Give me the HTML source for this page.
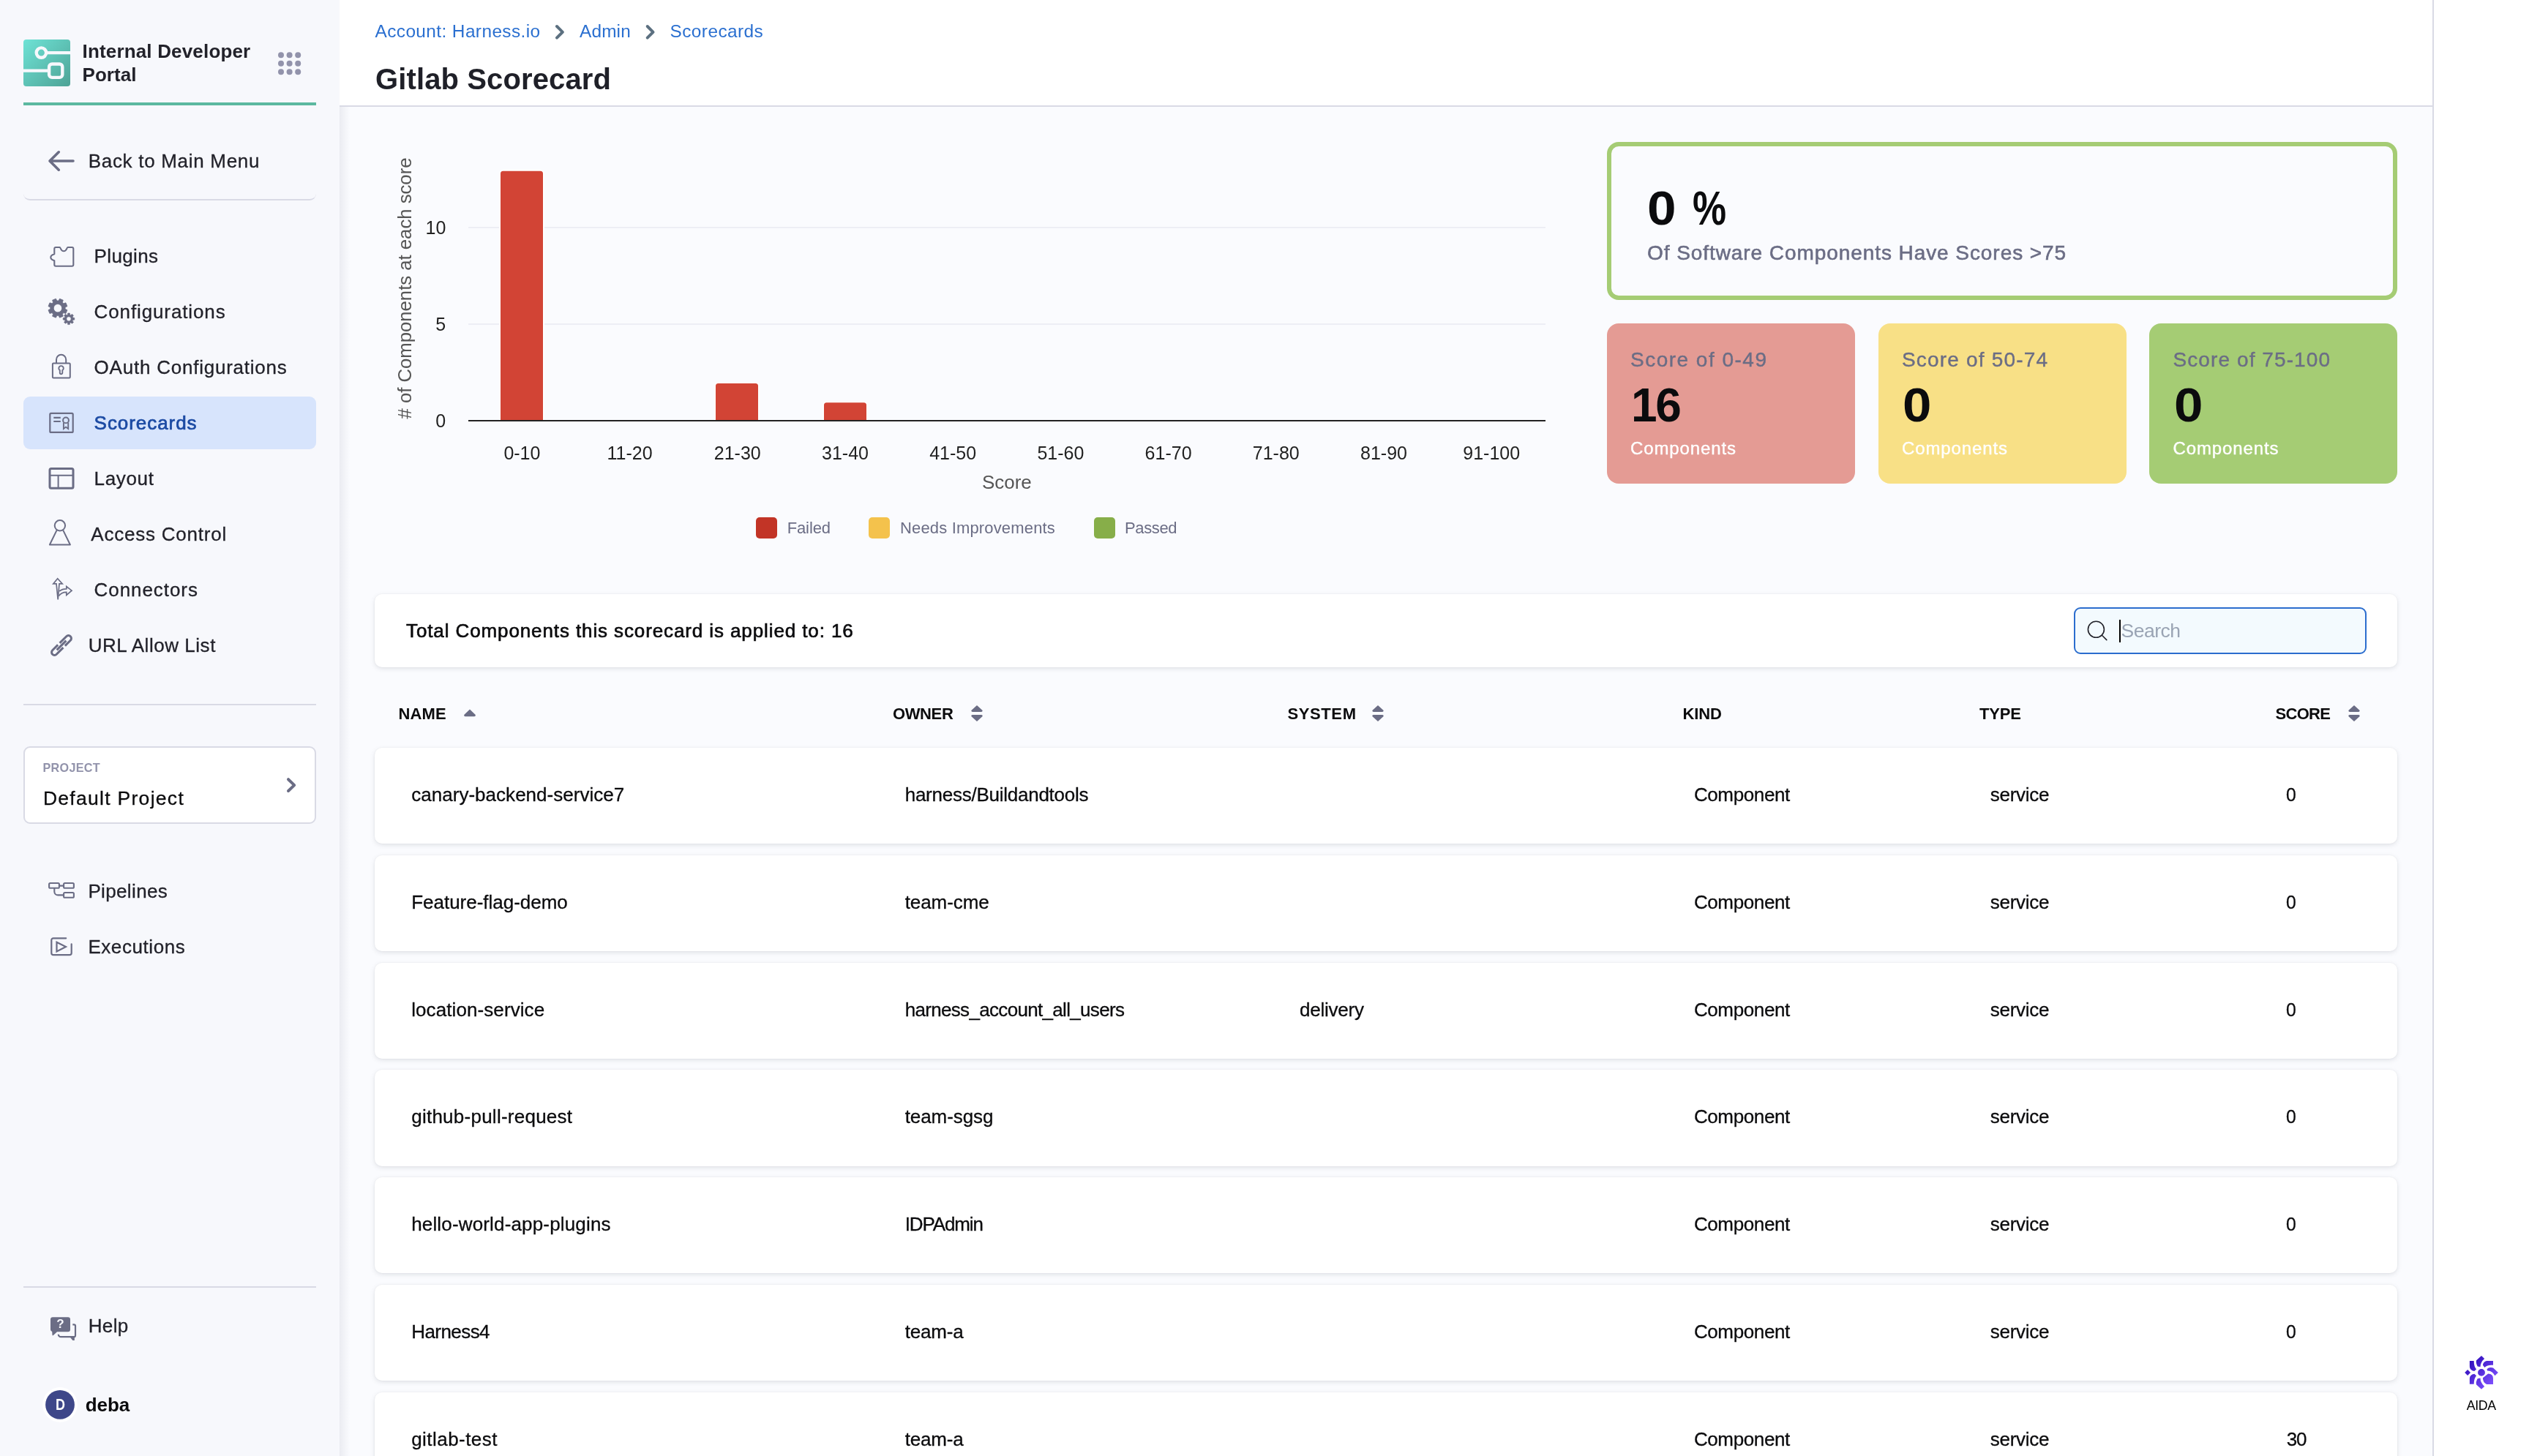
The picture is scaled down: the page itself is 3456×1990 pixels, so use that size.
<!DOCTYPE html>
<html>
<head>
<meta charset="utf-8">
<title>Gitlab Scorecard</title>
<style>
*{box-sizing:border-box;margin:0;padding:0}
html,body{width:3456px;height:1990px;overflow:hidden;background:#fafbfe}
body{font-family:"Liberation Sans",sans-serif;color:#0b0b0d;position:relative}
.abs{position:absolute}
.t{position:absolute;white-space:nowrap;line-height:1}
#side{position:absolute;left:0;top:0;width:464px;height:1990px;background:#f7f8fc}
#sideshadow{position:absolute;left:464px;top:0;width:14px;height:1990px;background:linear-gradient(90deg,rgba(110,112,140,.11),rgba(110,112,140,0))}
#greenbar{position:absolute;left:32px;top:140px;width:400px;height:4px;background:#5cb8a0}
.hr{position:absolute;left:32px;width:400px;height:2px;background:#d9dae5}
#sel{position:absolute;left:32px;top:542px;width:400px;height:72px;border-radius:9px;background:#d7e4fc}
#head{position:absolute;left:464px;top:0;width:2860px;height:146px;background:#fff;border-bottom:2px solid #d9dae5}
#rightpanel{position:absolute;left:3324px;top:0;width:132px;height:1990px;background:#fff;border-left:2px solid #d9dae5}
.card{position:absolute;background:#fff;border-radius:10px;box-shadow:0 2px 6px rgba(96,97,112,.16),0 0 3px rgba(40,41,61,.06)}
.score{position:absolute;top:442px;width:339px;height:219px;border-radius:16px}
.lgsq{position:absolute;top:707px;width:29px;height:29px;border-radius:5px}
#L{position:absolute;left:0;top:0;width:3456px;height:1990px;will-change:transform}
</style>
</head>
<body>
<div id="side"></div>
<div id="sideshadow"></div>
<div id="head"></div>
<div id="rightpanel"></div>
<div id="greenbar"></div>
<div id="sel"></div>
<div class="abs" style="left:32px;top:180px;width:400px;height:94px;border-bottom:2px solid #d9dae5;border-radius:9px"></div>
<div class="hr" style="top:962px"></div>
<div class="hr" style="top:1758px"></div>
<div class="abs" style="left:32px;top:1020px;width:400px;height:105.5px;border:2px solid #d9dae5;border-radius:9px;background:#fff"></div>
<div id="L">
<div class="abs" style="left:2196px;top:194px;width:1080px;height:216px;border:6px solid #a5cc74;border-radius:16px"></div>
<div class="score" style="left:2196px;background:#e49b94"></div>
<div class="score" style="left:2567px;background:#f8e086"></div>
<div class="score" style="left:2937.3px;background:#a5cc74"></div>
<div class="card" style="left:512px;top:812px;width:2764px;height:100px"></div>
<div class="abs" style="left:2834px;top:830px;width:400px;height:64px;border:2px solid #2b6dce;border-radius:9px;background:#f3fafe"></div>
<div class="abs" style="left:2896px;top:847px;width:2px;height:31px;background:#000"></div>
<div class="card" style="left:512px;top:1022.0px;width:2764px;height:131.25px"></div>
<div class="card" style="left:512px;top:1168.75px;width:2764px;height:131.25px"></div>
<div class="card" style="left:512px;top:1315.5px;width:2764px;height:131.25px"></div>
<div class="card" style="left:512px;top:1462.25px;width:2764px;height:131.25px"></div>
<div class="card" style="left:512px;top:1609.0px;width:2764px;height:131.25px"></div>
<div class="card" style="left:512px;top:1755.75px;width:2764px;height:131.25px"></div>
<div class="card" style="left:512px;top:1902.5px;width:2764px;height:131.25px"></div>
<div class="lgsq" style="left:1033px;background:#c23426"></div>
<div class="lgsq" style="left:1187px;background:#f4c24c"></div>
<div class="lgsq" style="left:1494.5px;background:#87ae49"></div>
<svg class="abs" style="left:464px;top:0" width="2992" height="1990" viewBox="464 0 2992 1990">
<path d="M761 36L768.8 43.8L761 51.6" stroke="#5c7080" stroke-width="4" fill="none" stroke-linecap="round" stroke-linejoin="round"/>
<path d="M884.7 36L892.5 43.8L884.7 51.6" stroke="#5c7080" stroke-width="4" fill="none" stroke-linecap="round" stroke-linejoin="round"/>
<path d="M640 311H2112M640 443H2112" stroke="#edeef5" stroke-width="2"/>
<path d="M683 575V237.2a4.5 4.5 0 0 1 4.5-4.5H738.5a4.5 4.5 0 0 1 4.5 4.5V575Z" fill="#d24435" stroke="#fff" stroke-width="2"/>
<path d="M977 575V527.5a4.5 4.5 0 0 1 4.5-4.5H1032.5a4.5 4.5 0 0 1 4.5 4.5V575Z" fill="#d24435" stroke="#fff" stroke-width="2"/>
<path d="M1125 575V553.7a4.5 4.5 0 0 1 4.5-4.5H1180.5a4.5 4.5 0 0 1 4.5 4.5V575Z" fill="#d24435" stroke="#fff" stroke-width="2"/>
<path d="M640 575H2112" stroke="#222" stroke-width="2"/>
<path d="M642 969.6 L649.8 977 Q650.2 979.2 648.2 979.2 H635.8 Q633.8 979.2 634.2 977 Z" fill="#6b6d85"/><path d="M1335 964 L1342.7 971.1 Q1342.9 972.9 1341.2 972.9 H1328.8 Q1327.1 972.9 1327.3 971.1 Z M1335 986 L1342.7 978.9 Q1342.9 977.1 1341.2 977.1 H1328.8 Q1327.1 977.1 1327.3 978.9 Z" fill="#6b6d85"/><path d="M1883 964 L1890.7 971.1 Q1890.9 972.9 1889.2 972.9 H1876.8 Q1875.1 972.9 1875.3 971.1 Z M1883 986 L1890.7 978.9 Q1890.9 977.1 1889.2 977.1 H1876.8 Q1875.1 977.1 1875.3 978.9 Z" fill="#6b6d85"/><path d="M3217 964 L3224.7 971.1 Q3224.9 972.9 3223.2 972.9 H3210.8 Q3209.1 972.9 3209.3 971.1 Z M3217 986 L3224.7 978.9 Q3224.9 977.1 3223.2 977.1 H3210.8 Q3209.1 977.1 3209.3 978.9 Z" fill="#6b6d85"/>
<circle cx="2864.4" cy="860.3" r="11" fill="none" stroke="#22222a" stroke-width="1.6"/><path d="M2872.4 868.3L2878.8 874.6" stroke="#22222a" stroke-width="1.6" stroke-linecap="round"/>
<defs><linearGradient id="ag" gradientUnits="userSpaceOnUse" x1="-18" y1="-18" x2="18" y2="18"><stop offset="0.1" stop-color="#3512c0"/><stop offset="0.9" stop-color="#7a4dfa"/></linearGradient></defs>
<g transform="translate(3391 1875.9)" fill="url(#ag)"><rect x="-23" y="-23" width="46" height="46" fill="none"/>
<circle r="4.9"/>
<path d="M0,-22.8 L4.1,-19 Q-1.5,-14 -1.5,-7.7 L-5.3,-8.4 Q-8,-13 -6.9,-16.6 Z"/>
<path d="M-16.1,-15.9 L-10.3,-15.9 Q-10.3,-8 -6.9,-4.3 L-9.75,-1.85 Q-16.1,-3 -16.1,-8.4 Z"/>
<path d="M16,-15.9 L7.1,-15.9 Q2.5,-15 1.9,-10.1 L4.3,-7 Q9,-11 16,-10.1 Z"/>
<path d="M22.9,0 L16,-6.3 Q11,-8 7.4,-4.6 L8.4,-2.2 Q14,-3 18.4,4.3 Z"/>
<path d="M16,16 L16,8.1 Q16,2 9.1,1.6 Q5,5 1.9,7.4 Q2,14 7.1,16 Z"/>
<path d="M0,22.8 L4.1,19 Q-1.5,14 -1.5,7.7 L-5.3,8.4 Q-8,13 -6.9,16.6 Z"/>
<path d="M-16.1,15.9 L-10.3,15.9 Q-10.3,8 -6.9,4.3 L-9.75,1.85 Q-16.1,3 -16.1,8.4 Z"/>
<path d="M-22.8,0 L-18.9,-4 L-14.9,0 L-18.9,4 Z"/></g>
</svg>
<div class="t" style="left:512.5px;top:31.0px;font-size:24.4px;color:#2a6fd0;letter-spacing:0.41px;">Account: Harness.io</div>
<div class="t" style="left:792.1px;top:31.0px;font-size:24.4px;color:#2a6fd0;letter-spacing:0.12px;">Admin</div>
<div class="t" style="left:915.5px;top:31.0px;font-size:24.4px;color:#2a6fd0;letter-spacing:0.44px;">Scorecards</div>
<div class="t" style="left:513.0px;top:87.8px;font-size:40px;color:#1f2028;font-weight:bold;letter-spacing:0.12px;">Gitlab Scorecard</div>
<div class="t" style="left:3370.8px;top:1912.8px;font-size:17.8px;color:#000;letter-spacing:-0.43px;">AIDA</div>
<div class="t" style="left:688.4px;top:607.1px;font-size:25px;color:#222;">0-10</div>
<div class="t" style="left:829.5px;top:607.1px;font-size:25px;color:#222;">11-20</div>
<div class="t" style="left:975.8px;top:607.1px;font-size:25px;color:#222;">21-30</div>
<div class="t" style="left:1123.0px;top:607.1px;font-size:25px;color:#222;">31-40</div>
<div class="t" style="left:1270.2px;top:607.1px;font-size:25px;color:#222;">41-50</div>
<div class="t" style="left:1417.4px;top:607.1px;font-size:25px;color:#222;">51-60</div>
<div class="t" style="left:1564.6px;top:607.1px;font-size:25px;color:#222;">61-70</div>
<div class="t" style="left:1711.8px;top:607.1px;font-size:25px;color:#222;">71-80</div>
<div class="t" style="left:1859.0px;top:607.1px;font-size:25px;color:#222;">81-90</div>
<div class="t" style="left:1999.3px;top:607.1px;font-size:25px;color:#222;">91-100</div>
<div class="t" style="left:581.5px;top:298.9px;font-size:25px;color:#222;">10</div>
<div class="t" style="left:595.3px;top:430.9px;font-size:25px;color:#222;">5</div>
<div class="t" style="left:595.3px;top:563.1px;font-size:25px;color:#222;">0</div>
<div class="t" style="left:1341.9px;top:646.2px;font-size:26px;color:#555;">Score</div>
<div class="t" style="left:553.5px;top:394.2px;font-size:25.7px;color:#555;transform:translate(-50%,-50%) rotate(-90deg);transform-origin:50% 50%">#&nbsp;of Components at each score</div>
<div class="t" style="left:1075.7px;top:711.1px;font-size:22px;color:#6b6d85;letter-spacing:-0.12px;">Failed</div>
<div class="t" style="left:1230.0px;top:711.1px;font-size:22px;color:#6b6d85;letter-spacing:0.16px;">Needs Improvements</div>
<div class="t" style="left:1537.0px;top:711.1px;font-size:22px;color:#6b6d85;letter-spacing:-0.36px;">Passed</div>
<div class="t" style="left:2251.2px;top:251.7px;font-size:65px;color:#0b0b0d;font-weight:bold;transform:scaleX(1.0934);transform-origin:0 50%;">0</div>
<div class="t" style="left:2312.7px;top:251.7px;font-size:65px;color:#0b0b0d;font-weight:bold;transform:scaleX(0.7965);transform-origin:0 50%;">%</div>
<div class="t" style="left:2251.0px;top:331.6px;font-size:28px;color:#6b6d85;letter-spacing:0.93px;-webkit-text-stroke:0.6px #6b6d85;">Of Software Components Have Scores &gt;75</div>
<div class="t" style="left:2228.0px;top:478.1px;font-size:28px;color:#6b6d85;letter-spacing:1.49px;-webkit-text-stroke:0.4px #6b6d85;">Score of 0-49</div>
<div class="t" style="left:2599.0px;top:478.1px;font-size:28px;color:#6b6d85;letter-spacing:1.18px;-webkit-text-stroke:0.4px #6b6d85;">Score of 50-74</div>
<div class="t" style="left:2969.5px;top:478.1px;font-size:28px;color:#6b6d85;letter-spacing:1.09px;-webkit-text-stroke:0.4px #6b6d85;">Score of 75-100</div>
<div class="t" style="left:2229.0px;top:521.7px;font-size:64px;color:#0b0b0d;font-weight:bold;letter-spacing:-2.25px;">16</div>
<div class="t" style="left:2600.0px;top:521.7px;font-size:64px;color:#0b0b0d;font-weight:bold;transform:scaleX(1.1088);transform-origin:0 50%;">0</div>
<div class="t" style="left:2970.5px;top:521.7px;font-size:64px;color:#0b0b0d;font-weight:bold;transform:scaleX(1.1088);transform-origin:0 50%;">0</div>
<div class="t" style="left:2228.0px;top:600.9px;font-size:24px;color:#fff;letter-spacing:0.88px;-webkit-text-stroke:0.4px #fff;">Components</div>
<div class="t" style="left:2599.0px;top:600.9px;font-size:24px;color:#fff;letter-spacing:0.88px;-webkit-text-stroke:0.4px #fff;">Components</div>
<div class="t" style="left:2969.5px;top:600.9px;font-size:24px;color:#fff;letter-spacing:0.88px;-webkit-text-stroke:0.4px #fff;">Components</div>
<div class="t" style="left:555.0px;top:848.7px;font-size:26px;color:#0b0b0d;letter-spacing:0.89px;-webkit-text-stroke:0.65px #0b0b0d;">Total Components this scorecard is applied to: 16</div>
<div class="t" style="left:2898.5px;top:849.4px;font-size:26.5px;color:#9aa4b4;letter-spacing:-0.50px;">Search</div>
<div class="t" style="left:544.5px;top:965.0px;font-size:22px;color:#0b0b0d;font-weight:bold;letter-spacing:0.12px;">NAME</div>
<div class="t" style="left:1220.0px;top:965.0px;font-size:22px;color:#0b0b0d;font-weight:bold;letter-spacing:-0.39px;">OWNER</div>
<div class="t" style="left:1759.5px;top:965.0px;font-size:22px;color:#0b0b0d;font-weight:bold;letter-spacing:0.60px;">SYSTEM</div>
<div class="t" style="left:2299.5px;top:965.0px;font-size:22px;color:#0b0b0d;font-weight:bold;letter-spacing:-0.15px;">KIND</div>
<div class="t" style="left:2705.0px;top:965.0px;font-size:22px;color:#0b0b0d;font-weight:bold;letter-spacing:-0.17px;">TYPE</div>
<div class="t" style="left:3109.5px;top:965.0px;font-size:22px;color:#0b0b0d;font-weight:bold;letter-spacing:-0.69px;">SCORE</div>
<div class="t" style="left:562.2px;top:1073.0px;font-size:26px;color:#0b0b0d;letter-spacing:0.03px;-webkit-text-stroke:0.3px #0b0b0d;">canary-backend-service7</div>
<div class="t" style="left:1236.7px;top:1073.0px;font-size:26px;color:#0b0b0d;letter-spacing:-0.25px;-webkit-text-stroke:0.3px #0b0b0d;">harness/Buildandtools</div>
<div class="t" style="left:2314.9px;top:1073.0px;font-size:26px;color:#0b0b0d;letter-spacing:-0.38px;-webkit-text-stroke:0.3px #0b0b0d;">Component</div>
<div class="t" style="left:2719.8px;top:1073.0px;font-size:26px;color:#0b0b0d;letter-spacing:-0.28px;-webkit-text-stroke:0.3px #0b0b0d;">service</div>
<div class="t" style="left:3123.6px;top:1073.0px;font-size:26px;color:#0b0b0d;-webkit-text-stroke:0.3px #0b0b0d;transform:scaleX(0.9517);transform-origin:0 50%;">0</div>
<div class="t" style="left:562.2px;top:1219.8px;font-size:26px;color:#0b0b0d;letter-spacing:-0.02px;-webkit-text-stroke:0.3px #0b0b0d;">Feature-flag-demo</div>
<div class="t" style="left:1236.7px;top:1219.8px;font-size:26px;color:#0b0b0d;letter-spacing:-0.08px;-webkit-text-stroke:0.3px #0b0b0d;">team-cme</div>
<div class="t" style="left:2314.9px;top:1219.8px;font-size:26px;color:#0b0b0d;letter-spacing:-0.38px;-webkit-text-stroke:0.3px #0b0b0d;">Component</div>
<div class="t" style="left:2719.8px;top:1219.8px;font-size:26px;color:#0b0b0d;letter-spacing:-0.28px;-webkit-text-stroke:0.3px #0b0b0d;">service</div>
<div class="t" style="left:3123.6px;top:1219.8px;font-size:26px;color:#0b0b0d;-webkit-text-stroke:0.3px #0b0b0d;transform:scaleX(0.9517);transform-origin:0 50%;">0</div>
<div class="t" style="left:562.2px;top:1366.5px;font-size:26px;color:#0b0b0d;letter-spacing:0.09px;-webkit-text-stroke:0.3px #0b0b0d;">location-service</div>
<div class="t" style="left:1236.7px;top:1366.5px;font-size:26px;color:#0b0b0d;letter-spacing:-0.68px;-webkit-text-stroke:0.3px #0b0b0d;">harness_account_all_users</div>
<div class="t" style="left:1776.1px;top:1366.5px;font-size:26px;color:#0b0b0d;letter-spacing:-0.25px;-webkit-text-stroke:0.3px #0b0b0d;">delivery</div>
<div class="t" style="left:2314.9px;top:1366.5px;font-size:26px;color:#0b0b0d;letter-spacing:-0.38px;-webkit-text-stroke:0.3px #0b0b0d;">Component</div>
<div class="t" style="left:2719.8px;top:1366.5px;font-size:26px;color:#0b0b0d;letter-spacing:-0.28px;-webkit-text-stroke:0.3px #0b0b0d;">service</div>
<div class="t" style="left:3123.6px;top:1366.5px;font-size:26px;color:#0b0b0d;-webkit-text-stroke:0.3px #0b0b0d;transform:scaleX(0.9517);transform-origin:0 50%;">0</div>
<div class="t" style="left:562.2px;top:1513.3px;font-size:26px;color:#0b0b0d;letter-spacing:0.25px;-webkit-text-stroke:0.3px #0b0b0d;">github-pull-request</div>
<div class="t" style="left:1236.7px;top:1513.3px;font-size:26px;color:#0b0b0d;letter-spacing:-0.08px;-webkit-text-stroke:0.3px #0b0b0d;">team-sgsg</div>
<div class="t" style="left:2314.9px;top:1513.3px;font-size:26px;color:#0b0b0d;letter-spacing:-0.38px;-webkit-text-stroke:0.3px #0b0b0d;">Component</div>
<div class="t" style="left:2719.8px;top:1513.3px;font-size:26px;color:#0b0b0d;letter-spacing:-0.28px;-webkit-text-stroke:0.3px #0b0b0d;">service</div>
<div class="t" style="left:3123.6px;top:1513.3px;font-size:26px;color:#0b0b0d;-webkit-text-stroke:0.3px #0b0b0d;transform:scaleX(0.9517);transform-origin:0 50%;">0</div>
<div class="t" style="left:562.2px;top:1660.0px;font-size:26px;color:#0b0b0d;letter-spacing:0.16px;-webkit-text-stroke:0.3px #0b0b0d;">hello-world-app-plugins</div>
<div class="t" style="left:1236.7px;top:1660.0px;font-size:26px;color:#0b0b0d;letter-spacing:-1.12px;-webkit-text-stroke:0.3px #0b0b0d;">IDPAdmin</div>
<div class="t" style="left:2314.9px;top:1660.0px;font-size:26px;color:#0b0b0d;letter-spacing:-0.38px;-webkit-text-stroke:0.3px #0b0b0d;">Component</div>
<div class="t" style="left:2719.8px;top:1660.0px;font-size:26px;color:#0b0b0d;letter-spacing:-0.28px;-webkit-text-stroke:0.3px #0b0b0d;">service</div>
<div class="t" style="left:3123.6px;top:1660.0px;font-size:26px;color:#0b0b0d;-webkit-text-stroke:0.3px #0b0b0d;transform:scaleX(0.9517);transform-origin:0 50%;">0</div>
<div class="t" style="left:562.2px;top:1806.8px;font-size:26px;color:#0b0b0d;letter-spacing:-0.56px;-webkit-text-stroke:0.3px #0b0b0d;">Harness4</div>
<div class="t" style="left:1236.7px;top:1806.8px;font-size:26px;color:#0b0b0d;letter-spacing:-0.20px;-webkit-text-stroke:0.3px #0b0b0d;">team-a</div>
<div class="t" style="left:2314.9px;top:1806.8px;font-size:26px;color:#0b0b0d;letter-spacing:-0.38px;-webkit-text-stroke:0.3px #0b0b0d;">Component</div>
<div class="t" style="left:2719.8px;top:1806.8px;font-size:26px;color:#0b0b0d;letter-spacing:-0.28px;-webkit-text-stroke:0.3px #0b0b0d;">service</div>
<div class="t" style="left:3123.6px;top:1806.8px;font-size:26px;color:#0b0b0d;-webkit-text-stroke:0.3px #0b0b0d;transform:scaleX(0.9517);transform-origin:0 50%;">0</div>
<div class="t" style="left:562.2px;top:1953.5px;font-size:26px;color:#0b0b0d;letter-spacing:0.45px;-webkit-text-stroke:0.3px #0b0b0d;">gitlab-test</div>
<div class="t" style="left:1236.7px;top:1953.5px;font-size:26px;color:#0b0b0d;letter-spacing:-0.20px;-webkit-text-stroke:0.3px #0b0b0d;">team-a</div>
<div class="t" style="left:2314.9px;top:1953.5px;font-size:26px;color:#0b0b0d;letter-spacing:-0.38px;-webkit-text-stroke:0.3px #0b0b0d;">Component</div>
<div class="t" style="left:2719.8px;top:1953.5px;font-size:26px;color:#0b0b0d;letter-spacing:-0.28px;-webkit-text-stroke:0.3px #0b0b0d;">service</div>
<div class="t" style="left:3124.8px;top:1953.5px;font-size:26px;color:#0b0b0d;letter-spacing:-1.18px;-webkit-text-stroke:0.3px #0b0b0d;">30</div>
<svg class="abs" style="left:32px;top:54px" width="64" height="64" viewBox="0 0 64 64"><defs><linearGradient id="lg1" x1="0" y1="0" x2="1" y2="1"><stop offset="0" stop-color="#6ee3d6"/><stop offset="1" stop-color="#4ea396"/></linearGradient></defs><rect width="64" height="64" rx="4" fill="url(#lg1)"/><g fill="none" stroke="#f7f8fc" stroke-width="4.4"><circle cx="24.4" cy="18.1" r="6.7"/><path d="M31.2 18.1H64"/><rect x="35.1" y="33.5" width="18.2" height="18.4" rx="4"/><path d="M0 42.6H35"/></g></svg>
<div class="t" style="left:112.5px;top:56.6px;font-size:26px;color:#22222a;font-weight:bold;letter-spacing:0.17px;">Internal Developer</div>
<div class="t" style="left:112.5px;top:88.7px;font-size:26px;color:#22222a;font-weight:bold;letter-spacing:0.07px;">Portal</div>
<svg class="abs" style="left:0;top:0" width="464" height="1990" viewBox="0 0 464 1990"><g fill="#9293ab"><circle cx="384" cy="75.2" r="4"/><circle cx="384" cy="86.7" r="4"/><circle cx="384" cy="98.3" r="4"/><circle cx="395.6" cy="75.2" r="4"/><circle cx="395.6" cy="86.7" r="4"/><circle cx="395.6" cy="98.3" r="4"/><circle cx="407.2" cy="75.2" r="4"/><circle cx="407.2" cy="86.7" r="4"/><circle cx="407.2" cy="98.3" r="4"/></g>
<path d="M100 220H68.2M80.3 207.8L68 220l12.3 12.2" stroke="#6b6d85" stroke-width="3.6" stroke-linecap="round" stroke-linejoin="round" fill="none"/>
<path d="M74.3 347.2C72 348 69.3 349 69.3 351.7C69.3 354.4 72 355.4 74.3 356.2V361.8a2 2 0 0 0 2 2H98.3a2 2 0 0 0 2-2V340a2 2 0 0 0-2-2H92.8C91 338 91.4 343.3 87.1 343.3C82.8 343.3 83.2 338 81.4 338H76.3a2 2 0 0 0-2 2Z" stroke="#6b6d85" stroke-width="2.1" fill="none" stroke-linejoin="round"/>
<path d="M89.09 422.32 L91.90 423.78 L89.93 428.53 L86.91 427.58 L85.33 429.16 L86.28 432.18 L81.53 434.15 L80.07 431.34 L77.83 431.34 L76.37 434.15 L71.62 432.18 L72.57 429.16 L70.99 427.58 L67.97 428.53 L66.00 423.78 L68.81 422.32 L68.81 420.08 L66.00 418.62 L67.97 413.87 L70.99 414.82 L72.57 413.24 L71.62 410.22 L76.37 408.25 L77.83 411.06 L80.07 411.06 L81.53 408.25 L86.28 410.22 L85.33 413.24 L86.91 414.82 L89.93 413.87 L91.90 418.62 L89.09 420.08Z M84.65 421.20 A5.7 5.7 0 1 0 73.25 421.20 A5.7 5.7 0 1 0 84.65 421.20Z" fill="#6b6d85" fill-rule="evenodd" stroke="#6b6d85" stroke-width="0.8" stroke-linejoin="round"/>
<path d="M99.55 434.12 L101.79 434.50 L101.79 437.10 L99.55 437.48 L99.12 438.53 L100.43 440.39 L98.59 442.23 L96.73 440.92 L95.68 441.35 L95.30 443.59 L92.70 443.59 L92.32 441.35 L91.27 440.92 L89.41 442.23 L87.57 440.39 L88.88 438.53 L88.45 437.48 L86.21 437.10 L86.21 434.50 L88.45 434.12 L88.88 433.07 L87.57 431.21 L89.41 429.37 L91.27 430.68 L92.32 430.25 L92.70 428.01 L95.30 428.01 L95.68 430.25 L96.73 430.68 L98.59 429.37 L100.43 431.21 L99.12 433.07Z M97.10 435.80 A3.1 3.1 0 1 0 90.90 435.80 A3.1 3.1 0 1 0 97.10 435.80Z" fill="#6b6d85" fill-rule="evenodd" stroke="#6b6d85" stroke-width="0.6" stroke-linejoin="round"/>
<g fill="none" stroke="#6b6d85" stroke-width="2"><rect x="71.9" y="496.5" width="23.9" height="19.9" rx="1.2"/><path d="M77 496.5V491.4a6.6 6.6 0 0 1 13.2 0V496.5"/><path d="M81.8 506A3.2 3.2 0 1 1 85.3 506V509.6A1.75 1.75 0 0 1 81.8 509.6Z" stroke-width="1.9"/></g>
<g fill="none" stroke="#6b6d85" stroke-width="2.2"><rect x="68.3" y="564.9" width="31.4" height="26" rx="1.5"/><path d="M73.3 570.9H82.8M73.3 576H82.8" stroke-width="2.1"/><circle cx="90" cy="574.4" r="3.9" stroke-width="2"/><path d="M86.9 577.5V586L90 583.6L93.2 586V577.5" stroke-width="1.9"/></g>
<g fill="none" stroke="#6b6d85"><rect x="68" y="640.5" width="32" height="26.7" rx="2" stroke-width="3"/><path d="M68 649.8H100M79.6 650V667" stroke-width="2"/></g>
<g fill="none" stroke="#6b6d85" stroke-width="2" stroke-linejoin="round"><circle cx="81.9" cy="718.3" r="7.2"/><path d="M77.6 724.6L67.9 744.5H95.9L86.2 724.6"/></g>
<g fill="none" stroke="#6b6d85" stroke-width="1.7" stroke-linejoin="miter"><path d="M78.7 790.8L85.2 797.9H81L79.2 819.5L77 797.9H72.8Z"/><path d="M81.2 808C84 805.5 87 804.8 90.8 804.8V801.6L98 807.2L90.8 813.4V809.3C87 809.3 83 810.3 80.4 814.5"/></g>
<g transform="translate(84 882) rotate(-45)" fill="none" stroke="#6b6d85" stroke-width="3"><path d="M0.5 -3.9H13.5A3.9 3.9 0 0 1 13.5 3.9H3M-0.5 3.9H-13.5A3.9 3.9 0 0 1 -13.5 -3.9H-3M-9 0H9"/></g>
<path d="M394 1065.2L402.2 1073.1L394 1081" stroke="#6b6d85" stroke-width="4" fill="none" stroke-linecap="round" stroke-linejoin="round"/>
<g fill="none" stroke="#6b6d85" stroke-width="2.1"><rect x="67.1" y="1207" width="13.8" height="6.8" rx="1.6"/><rect x="87.1" y="1207" width="13.8" height="6.8" rx="1.6"/><rect x="87.1" y="1220" width="13.8" height="6.8" rx="1.6"/><path d="M80.9 1210.6H87.1M74.3 1213.8V1218.4a5 5 0 0 0 5 5H87.1"/></g>
<g fill="none" stroke="#6b6d85" stroke-width="2.2" stroke-linecap="round" stroke-linejoin="round"><path d="M90.2 1282.3H73a2.7 2.7 0 0 0-2.7 2.7V1302.4a2.7 2.7 0 0 0 2.7 2.7H95a2.7 2.7 0 0 0 2.7-2.7V1290.3"/><path d="M77.5 1287.7L90 1294.1L77.5 1300.5Z" stroke-linejoin="miter"/></g>
<path d="M72 1800.2H93a3 3 0 0 1 3 3V1817.2a3 3 0 0 1-3 3H78L72.6 1825.2Q71.6 1825.6 71.5 1824.4L71.2 1820A3 3 0 0 1 69 1817.2V1803.2a3 3 0 0 1 3-3Z" fill="#6b6d85"/>
<path d="M99.3 1810.3H101a2 2 0 0 1 2 2V1825.2a2 2 0 0 1-2 2H83.2a3.4 3.4 0 0 1-3.4-3.4" fill="none" stroke="#6b6d85" stroke-width="2.2"/><path d="M95.3 1827L99.3 1832H101.8V1827Z" fill="#6b6d85"/>
<circle cx="82" cy="1919.9" r="23.8" fill="#fff"/><circle cx="82" cy="1919.9" r="19.9" fill="#3e4789"/>
</svg>
<div class="t" style="left:77.2px;top:1801.2px;font-size:17px;font-weight:bold;color:#f7f8fc">?</div>
<div class="t" style="left:75.7px;top:1909.2px;font-size:21.2px;color:#fff;font-weight:bold;transform:scaleX(0.8488);transform-origin:0 50%;">D</div>
<div class="t" style="left:120.7px;top:206.7px;font-size:26px;color:#22222a;letter-spacing:0.70px;-webkit-text-stroke:0.3px #22222a;">Back to Main Menu</div>
<div class="t" style="left:128.6px;top:336.5px;font-size:26px;color:#22222a;letter-spacing:0.36px;-webkit-text-stroke:0.3px #22222a;">Plugins</div>
<div class="t" style="left:128.6px;top:412.5px;font-size:26px;color:#22222a;letter-spacing:0.88px;-webkit-text-stroke:0.3px #22222a;">Configurations</div>
<div class="t" style="left:128.6px;top:488.5px;font-size:26px;color:#22222a;letter-spacing:0.77px;-webkit-text-stroke:0.3px #22222a;">OAuth Configurations</div>
<div class="t" style="left:128.6px;top:564.5px;font-size:26px;color:#1b4aa3;letter-spacing:0.94px;-webkit-text-stroke:0.7px #1b4aa3;">Scorecards</div>
<div class="t" style="left:128.6px;top:640.5px;font-size:26px;color:#22222a;letter-spacing:0.66px;-webkit-text-stroke:0.3px #22222a;">Layout</div>
<div class="t" style="left:124.3px;top:716.5px;font-size:26px;color:#22222a;letter-spacing:0.78px;-webkit-text-stroke:0.3px #22222a;">Access Control</div>
<div class="t" style="left:128.6px;top:792.5px;font-size:26px;color:#22222a;letter-spacing:0.93px;-webkit-text-stroke:0.3px #22222a;">Connectors</div>
<div class="t" style="left:120.7px;top:868.5px;font-size:26px;color:#22222a;letter-spacing:0.54px;-webkit-text-stroke:0.3px #22222a;">URL Allow List</div>
<div class="t" style="left:58.5px;top:1041.1px;font-size:16.2px;color:#9293ab;font-weight:bold;letter-spacing:0.29px;">PROJECT</div>
<div class="t" style="left:58.9px;top:1077.9px;font-size:26.5px;color:#0b0b0d;letter-spacing:1.29px;-webkit-text-stroke:0.3px #0b0b0d;">Default Project</div>
<div class="t" style="left:120.4px;top:1204.7px;font-size:26px;color:#22222a;letter-spacing:0.36px;-webkit-text-stroke:0.3px #22222a;">Pipelines</div>
<div class="t" style="left:120.4px;top:1281.2px;font-size:26px;color:#22222a;letter-spacing:0.57px;-webkit-text-stroke:0.3px #22222a;">Executions</div>
<div class="t" style="left:120.7px;top:1798.7px;font-size:26px;color:#22222a;letter-spacing:0.37px;-webkit-text-stroke:0.3px #22222a;">Help</div>
<div class="t" style="left:116.8px;top:1906.6px;font-size:26px;color:#0b0b0d;font-weight:bold;letter-spacing:-0.12px;">deba</div>
</div>
</body>
</html>
